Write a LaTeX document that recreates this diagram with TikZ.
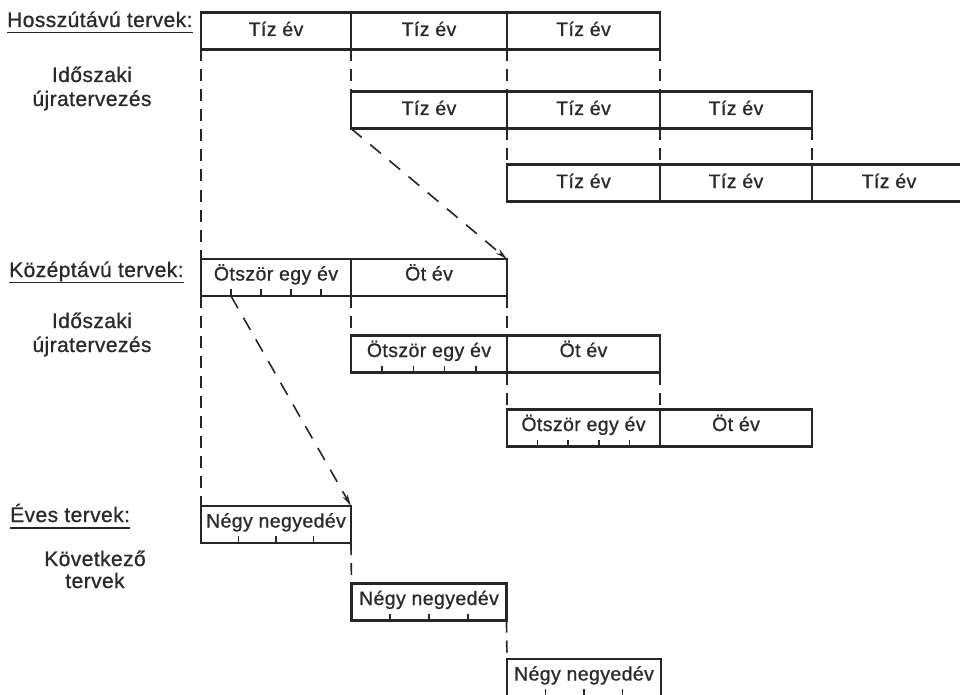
\documentclass[tikz,border=0pt]{standalone}
\usepackage{fontspec}
\setmainfont{Liberation Sans}[LetterSpace=2, FakeBold=0.8]
\usetikzlibrary{arrows.meta,calc}

\definecolor{ink}{HTML}{262626}
\definecolor{txt}{HTML}{2A2A2A}

\tikzset{
  planbox/.style={draw=ink, line width=2.3pt, inner sep=0pt, outer sep=0pt,
    minimum height=37pt, text=txt, font=\fontsize{19.5}{23}\selectfont,
    text height=14pt},
  tenbox/.style={planbox, text depth=4pt},
  tickbox/.style={planbox, text depth=8pt},
  % short marks on the lower edge, splitting the box into #1 equal parts
  ticks/.style={path picture={
    \pgfmathtruncatemacro{\last}{#1-1}
    \foreach \k in {1,...,\last}
      \draw[ink, line width=1.7pt]
        ($(path picture bounding box.south west)!\k/#1!(path picture bounding box.south east)$)
        -- ++(0pt,7pt);}},
  rowlabel/.style={inner sep=0pt, text=txt, font=\fontsize{21}{25}\selectfont},
  uline/.style={draw=ink, line width=1.8pt},
  guide/.style={draw=ink, line width=1.7pt, dash pattern=on 12pt off 8pt},
  levelarrow/.style={draw=ink, line width=1.6pt, dash pattern=on 14pt off 11pt,
    -{Stealth[length=12pt, width=5.5pt]}},
}

\begin{document}
\begin{tikzpicture}[x=1pt, y=-1pt]
  \fill[white] (0,0) rectangle (960,695);
  \path[use as bounding box] (0,0) rectangle (960,695);
  \clip (0,0) rectangle (960,695);

  % ---- long-range plans: ten-year blocks
  \node[tenbox, minimum width=150pt] (l1a) at (276,31)   {Tíz év};
  \node[tenbox, minimum width=156pt] (l1b) at (429,31)   {Tíz év};
  \node[tenbox, minimum width=153pt] (l1c) at (583.5,31) {Tíz év};

  \node[tenbox, minimum width=156pt] (l2a) at (429,110)   {Tíz év};
  \node[tenbox, minimum width=153pt] (l2b) at (583.5,110) {Tíz év};
  \node[tenbox, minimum width=152pt] (l2c) at (736,110)   {Tíz év};

  \node[tenbox, minimum width=153pt] (l3a) at (583.5,183) {Tíz év};
  \node[tenbox, minimum width=152pt] (l3b) at (736,183)   {Tíz év};
  \node[tenbox, minimum width=154pt] (l3c) at (889,183)   {Tíz év};

  % ---- medium-range plans
  \node[tickbox, ticks=5, minimum width=150pt] (m1a) at (276,277.5) {Ötször egy év};
  \node[tickbox, minimum width=156pt]          (m1b) at (429,277.5) {Öt év};

  \node[tickbox, ticks=5, minimum width=156pt] (m2a) at (429,354)   {Ötször egy év};
  \node[tickbox, minimum width=153pt]          (m2b) at (583.5,354) {Öt év};

  \node[tickbox, ticks=5, minimum width=153pt] (m3a) at (583.5,428) {Ötször egy év};
  \node[tickbox, minimum width=152pt]          (m3b) at (736,428)   {Öt év};

  % ---- annual plans
  \node[tickbox, ticks=4, minimum width=150pt] (a1) at (276,524.5) {Négy negyedév};
  \node[tickbox, ticks=4, minimum width=155pt] (a2) at (429,602)   {Négy negyedév};
  \node[tickbox, ticks=4, minimum width=154pt] (a3) at (584,677.5) {Négy negyedév};

  % ---- row headings
  \node[rowlabel, anchor=base west] (hl) at (7,27) {Hosszútávú tervek:};
  \draw[uline] ([yshift=-5.5pt]hl.base west) -- ([yshift=-5.5pt]hl.base east);
  \node[rowlabel, anchor=base] (i1) at (92,82)  {Időszaki};
  \node[rowlabel, anchor=base] (u1) at (92,106) {újratervezés};

  \node[rowlabel, anchor=base west] (kl) at (9,277) {Középtávú tervek:};
  \draw[uline] ([yshift=-5.5pt]kl.base west) -- ([yshift=-5.5pt]kl.base east);
  \node[rowlabel, anchor=base] (i2) at (92,328) {Időszaki};
  \node[rowlabel, anchor=base] (u2) at (92,352) {újratervezés};

  \node[rowlabel, anchor=base west] (el) at (10,522) {Éves tervek:};
  \draw[uline] ([yshift=-6pt]el.base west) -- ([yshift=-6pt]el.base east);
  \node[rowlabel, anchor=base] (kv) at (95,566) {Következő};
  \node[rowlabel, anchor=base] (tv) at (95,588) {tervek};

  % ---- dashed guides between successive plans
  \draw[guide] (l1a.south west) -- (m1a.north west);
  \draw[guide] (l1b.south west) -- (l2a.north west);
  \draw[guide] (l1c.south west) -- (l2b.north west);
  \draw[guide] (l1c.south east) -- (l2c.north west);
  \draw[guide] (l2b.south west) -- (l3a.north west);
  \draw[guide] (l2c.south west) -- (l3b.north west);
  \draw[guide] (l2c.south east) -- (l3c.north west);

  \draw[guide] (m1a.south west) -- (a1.north west);
  \draw[guide] (m1b.south west) -- (m2a.north west);
  \draw[guide] (m1b.south east) -- (m2b.north west);
  \draw[guide] (m2b.south west) -- (m3a.north west);
  \draw[guide] (m2b.south east) -- (m3b.north west);

  \draw[guide] (a1.south east) -- (a2.north west);
  \draw[guide] (a2.south east) -- (a3.north west);

  % ---- links from one planning level to the next
  \coordinate (t1) at ($(m1a.south west)!0.2!(m1a.south east)$);
  \draw[levelarrow] (l2a.south west) -- (m1b.north east);
  \draw[levelarrow] (t1) -- (a1.north east);
\end{tikzpicture}
\end{document}
